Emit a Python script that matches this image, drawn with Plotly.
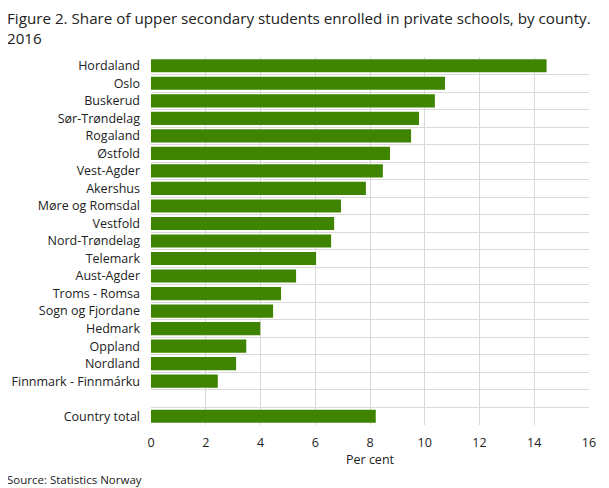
import plotly.graph_objects as go

counties = [
    "Hordaland", "Oslo", "Buskerud", "Sør-Trøndelag", "Rogaland", "Østfold",
    "Vest-Agder", "Akershus", "Møre og Romsdal", "Vestfold", "Nord-Trøndelag",
    "Telemark", "Aust-Agder", "Troms - Romsa", "Sogn og Fjordane", "Hedmark",
    "Oppland", "Nordland", "Finnmark - Finnmárku", " ", "Country total",
]
share = [
    14.45, 10.74, 10.37, 9.79, 9.50, 8.73,
    8.47, 7.85, 6.94, 6.69, 6.58,
    6.03, 5.30, 4.75, 4.46, 3.99,
    3.48, 3.11, 2.44, None, 8.21,
]
x_ticks = [0, 2, 4, 6, 8, 10, 12, 14, 16]

FONT = "Open Sans"
GRID = "#d9d9d9"
# page puts the plot 8px in from the top-left, so margins are compensated
W, H = 609, 488
L, R, T, B = 143, 28, 49, 71

fig = go.Figure()
fig.add_trace(go.Bar(
    x=share,
    y=counties,
    orientation="h",
    marker=dict(color="#3f8400", line=dict(width=0)),
    hovertemplate="%{y}: %{x:.1f}<extra></extra>",
))

pw, ph = W - L - R, H - T - B

fig.update_layout(
    width=W, height=H,
    margin=dict(l=L, r=R, t=T, b=B, autoexpand=False),
    paper_bgcolor="white", plot_bgcolor="white",
    bargap=0.25,
    showlegend=False,
    font=dict(family=FONT, size=12.5, color="#222"),
    annotations=[
        dict(
            text="Figure 2. Share of upper secondary students enrolled in private schools, by county.<br>2016",
            xref="paper", yref="paper",
            x=(-3 - L) / pw, y=1 + (T + 2) / ph,
            xanchor="left", yanchor="top", align="left", showarrow=False,
            font=dict(family=FONT, size=15.2, color="#222"),
        ),
        dict(
            text="Source: Statistics Norway",
            xref="paper", yref="paper",
            x=(-3 - L) / pw, y=-(462 - T - ph) / ph,
            xanchor="left", yanchor="top", showarrow=False,
            font=dict(family=FONT, size=11.5, color="#222"),
        ),
    ],
)

fig.update_xaxes(
    range=[0, 16], tickvals=x_ticks,
    showgrid=True, gridcolor=GRID, gridwidth=1,
    zeroline=False, showline=False,
    ticks="", ticklabelstandoff=8, tickfont=dict(size=12.5),
    title=dict(text="Per cent", standoff=0, font=dict(size=12.5)),
)
fig.update_yaxes(
    categoryorder="array", categoryarray=counties,
    autorange="reversed",
    tickson="boundaries", showgrid=True, gridcolor=GRID, gridwidth=1,
    ticks="", showline=False, ticklabelstandoff=10,
)

fig.write_html("out.html")
